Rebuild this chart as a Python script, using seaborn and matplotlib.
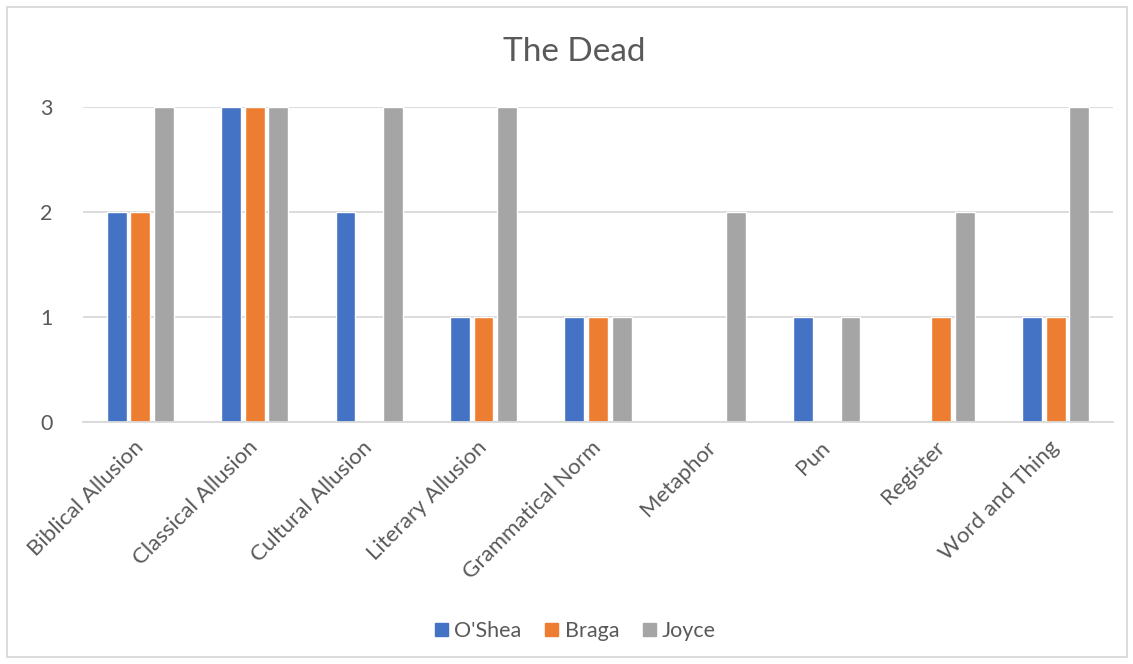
import matplotlib
matplotlib.use("Agg")
import matplotlib.pyplot as plt
import seaborn as sns
import pandas as pd
from matplotlib.patches import Rectangle

# data
categories = ["Biblical Allusion", "Classical Allusion", "Cultural Allusion",
              "Literary Allusion", "Grammatical Norm", "Metaphor", "Pun",
              "Register", "Word and Thing"]
oshea = [2, 3, 2, 1, 1, 0, 1, 0, 1]
braga = [2, 3, 0, 1, 1, 0, 0, 1, 1]
joyce = [3, 3, 3, 3, 1, 2, 1, 2, 3]
series = ["O'Shea", "Braga", "Joyce"]
colors = ["#4472C4", "#ED7D31", "#A5A5A5"]

df = pd.DataFrame({"category": categories, "O'Shea": oshea,
                   "Braga": braga, "Joyce": joyce})
long = df.melt(id_vars="category", var_name="series", value_name="count")

sns.set_theme(style="white")
plt.rcParams["font.family"] = ["Lato", "DejaVu Sans"]
text_color = "#595959"

fig = plt.figure(figsize=(11.33, 6.64), dpi=100)
ax = fig.add_axes([83 / 1133, 1 - 422 / 664, 1030 / 1133, 315 / 664])

sns.barplot(data=long, x="category", y="count", hue="series",
            hue_order=series, palette=colors, order=categories,
            width=0.62, gap=0.16, saturation=1, ax=ax, legend=True)

ax.set_ylim(0, 3)
ax.set_yticks([0, 1, 2, 3])
ax.yaxis.grid(True, color="#D9D9D9", linewidth=1.3)
ax.set_axisbelow(True)
for s in ["top", "right", "left"]:
    ax.spines[s].set_visible(False)
ax.spines["bottom"].set_color("#D9D9D9")
ax.spines["bottom"].set_linewidth(1.3)
ax.set_xlabel("")
ax.set_ylabel("")
ax.tick_params(axis="y", length=0, pad=22, labelsize=15.5, labelcolor=text_color)
ax.tick_params(axis="x", length=0, pad=16, labelsize=16, labelcolor=text_color)
ax.set_xticks(range(len(categories)))
ax.set_xticklabels(categories, rotation=45, ha="right", va="center",
                   rotation_mode="anchor")

ax.legend_.remove()
handles = [Rectangle((0, 0), 1, 1, color=c) for c in colors]
fig.legend(handles, series, loc="center", bbox_to_anchor=(0.508, 1 - 631 / 664),
           ncol=3, frameon=False, fontsize=15.5, labelcolor=text_color,
           handlelength=0.6, handleheight=0.6, handletextpad=0.3,
           columnspacing=1.1)

fig.text(0.507, 1 - 52 / 664, "The Dead", ha="center", va="center",
         fontsize=24, color=text_color)

fig.patches.append(Rectangle((7 / 1133, 7 / 664), 1120 / 1133, 650 / 664,
                             transform=fig.transFigure, fill=False,
                             edgecolor="#D9D9D9", linewidth=1.3))

fig.savefig("out.png", dpi=100)
